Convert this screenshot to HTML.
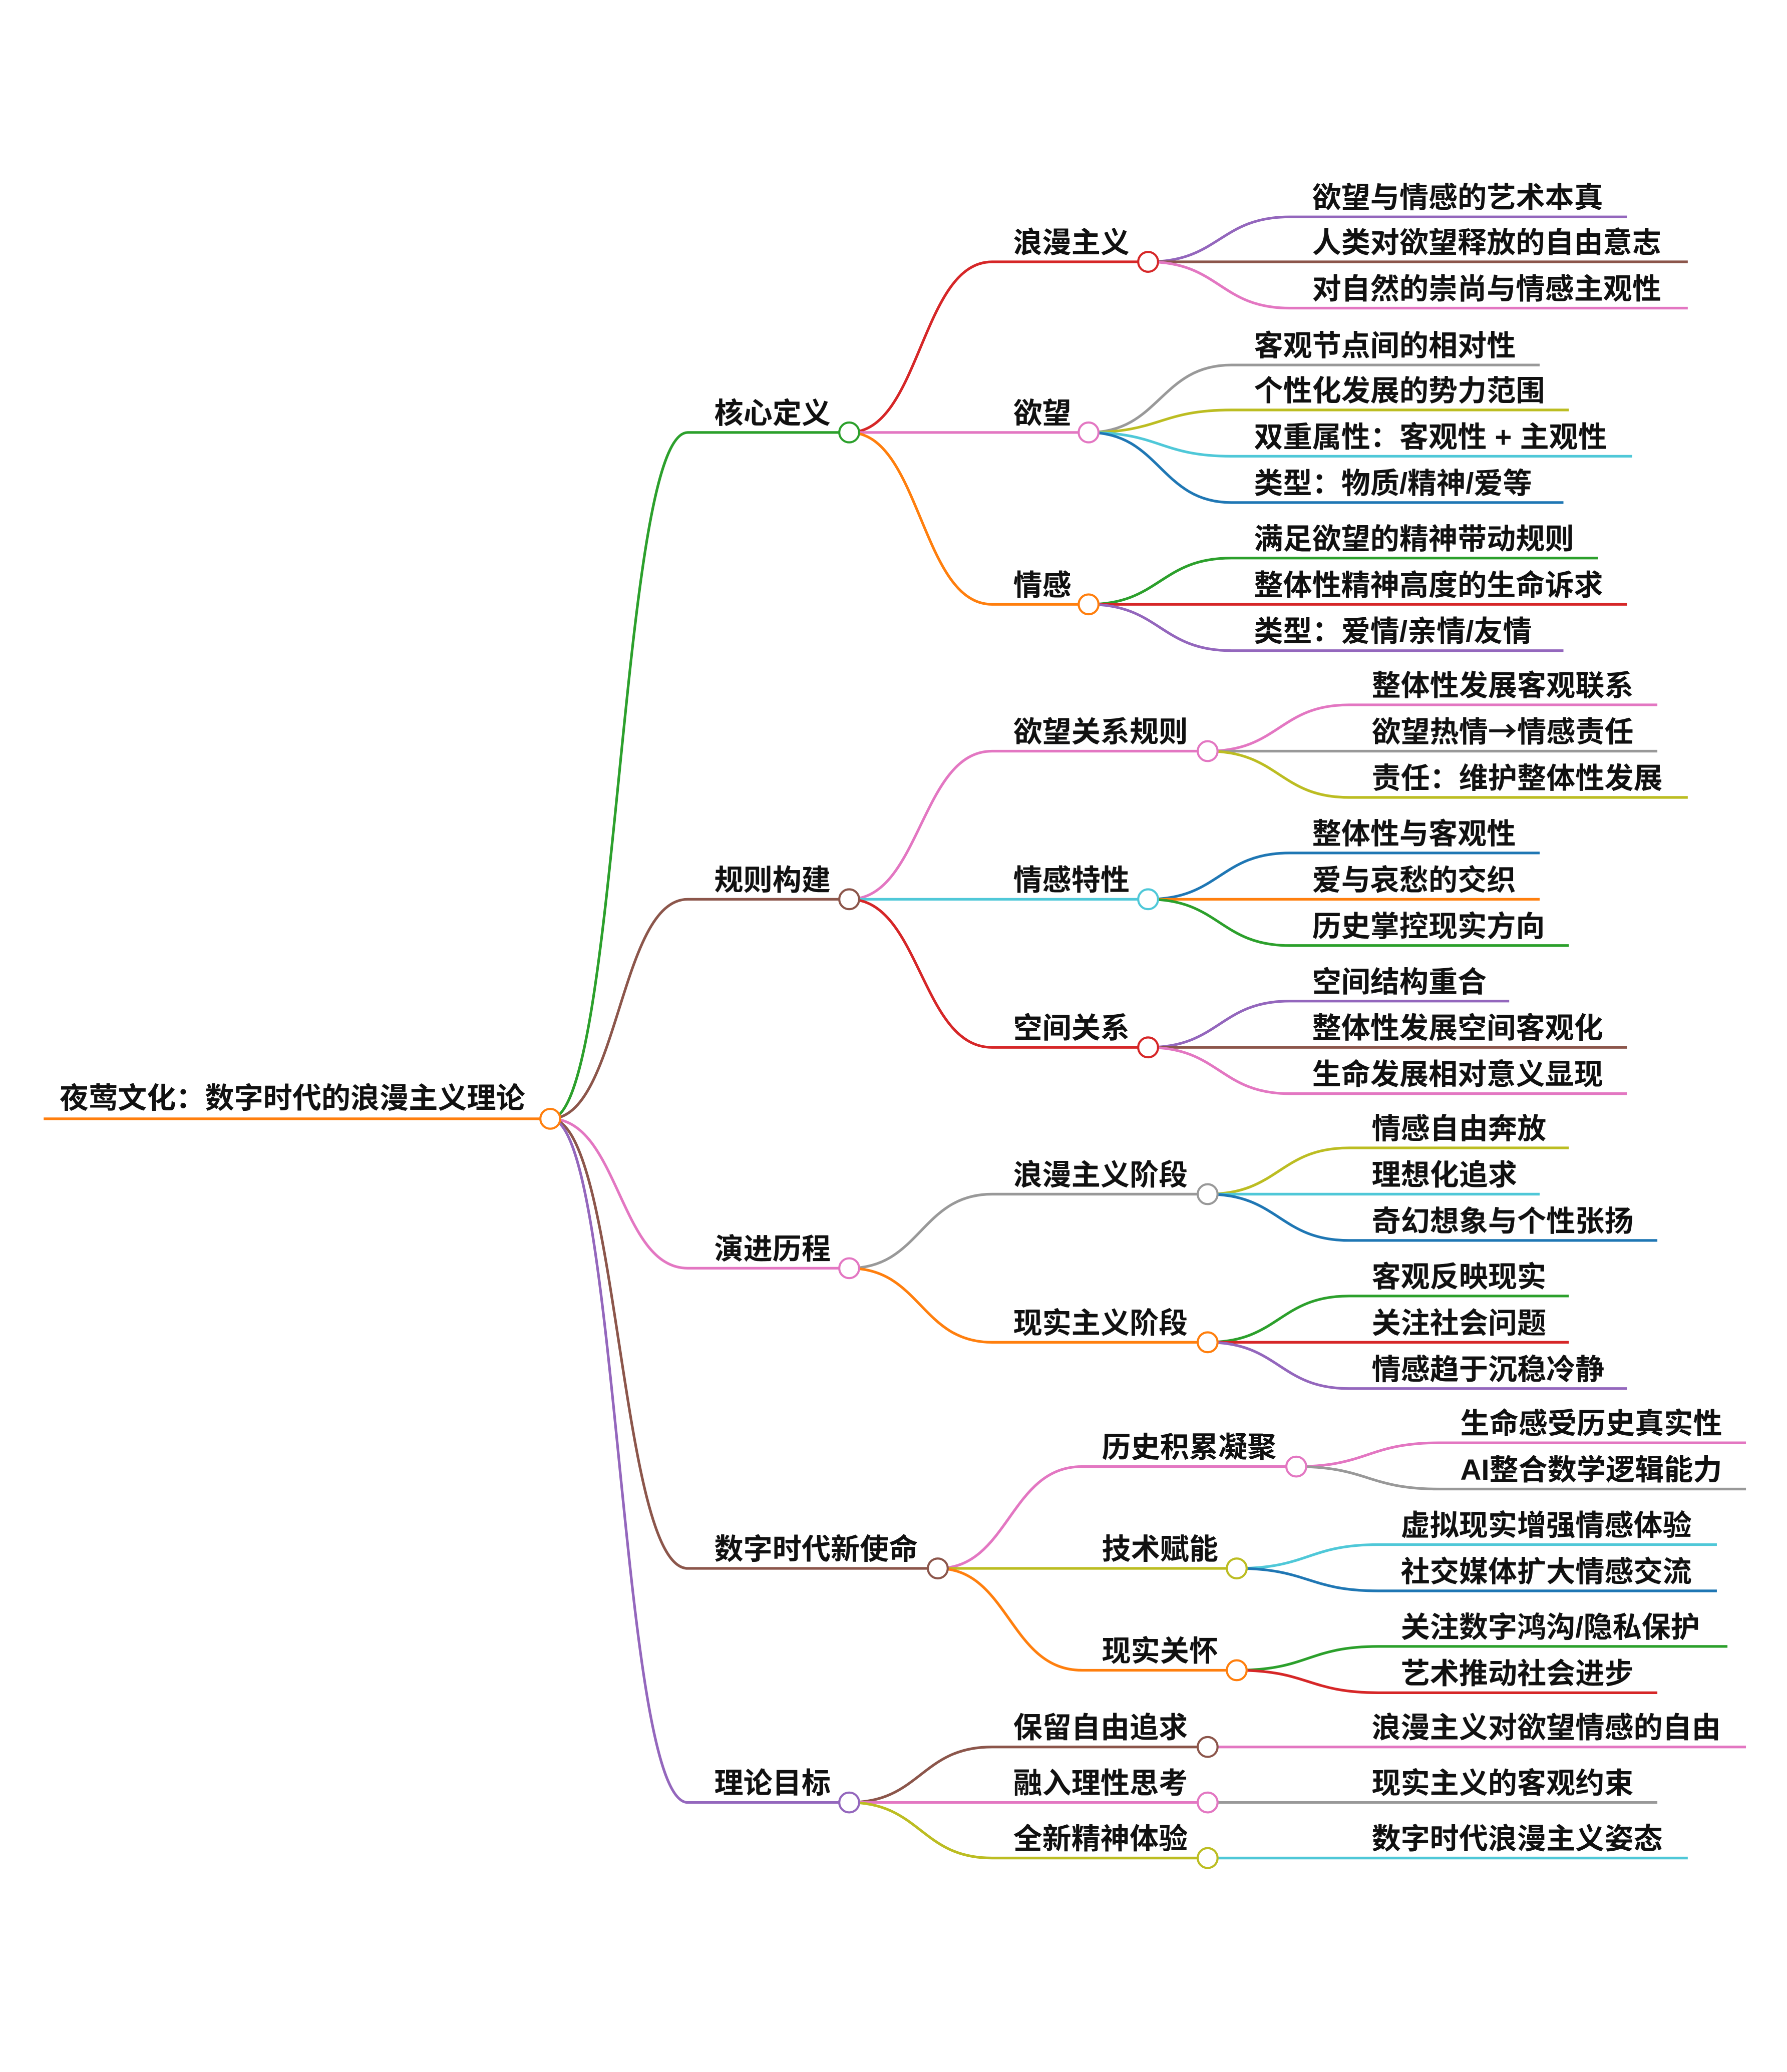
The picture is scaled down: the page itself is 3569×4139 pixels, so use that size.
<!DOCTYPE html>
<html><head><meta charset="utf-8"><style>
html,body{margin:0;padding:0;background:#fff;}
svg{display:block;}
text{font-family:"Liberation Sans","Noto Sans CJK SC",sans-serif;font-weight:bold;font-size:22px;fill:#111;}
path{fill:none;stroke-width:2;}
circle{fill:#fff;stroke-width:1.6;}
</style></head><body>
<svg width="3569" height="4139" viewBox="0 0 1351 1566.8" xmlns="http://www.w3.org/2000/svg">
<path d="M33 846 L416 846" stroke="#ff7f0e"/>
<text x="45" y="838">夜莺文化：数字时代的浪漫主义理论</text>
<path d="M416 846 C468 846 468 327 520 327 L642 327" stroke="#2ca02c"/>
<path d="M416 846 C468 846 468 680 520 680 L642 680" stroke="#8c564b"/>
<path d="M416 846 C468 846 468 959 520 959 L642 959" stroke="#e377c2"/>
<path d="M416 846 C468 846 468 1186 520 1186 L709 1186" stroke="#8c564b"/>
<path d="M416 846 C468 846 468 1363 520 1363 L642 1363" stroke="#9467bd"/>
<text x="540" y="320">核心定义</text>
<text x="540" y="673">规则构建</text>
<text x="540" y="952">演进历程</text>
<text x="540" y="1179">数字时代新使命</text>
<text x="540" y="1356">理论目标</text>
<path d="M642 327 C696 327 696 198 750 198 L868 198" stroke="#d62728"/>
<path d="M642 327 L823 327" stroke="#e377c2"/>
<path d="M642 327 C696 327 696 457 750 457 L823 457" stroke="#ff7f0e"/>
<path d="M642 680 C696 680 696 568 750 568 L913 568" stroke="#e377c2"/>
<path d="M642 680 L868 680" stroke="#4fc8d8"/>
<path d="M642 680 C696 680 696 792 750 792 L868 792" stroke="#d62728"/>
<path d="M642 959 C696 959 696 903 750 903 L913 903" stroke="#999999"/>
<path d="M642 959 C696 959 696 1015 750 1015 L913 1015" stroke="#ff7f0e"/>
<path d="M709 1186 C763 1186 763 1109 818 1109 L980 1109" stroke="#e377c2"/>
<path d="M709 1186 L935 1186" stroke="#bcbd22"/>
<path d="M709 1186 C763 1186 763 1263 818 1263 L935 1263" stroke="#ff7f0e"/>
<path d="M642 1363 C696 1363 696 1321 750 1321 L913 1321" stroke="#8c564b"/>
<path d="M642 1363 L913 1363" stroke="#e377c2"/>
<path d="M642 1363 C696 1363 696 1405 750 1405 L913 1405" stroke="#bcbd22"/>
<text x="766" y="191">浪漫主义</text>
<text x="766" y="320">欲望</text>
<text x="766" y="450">情感</text>
<text x="766" y="561">欲望关系规则</text>
<text x="766" y="673">情感特性</text>
<text x="766" y="785">空间关系</text>
<text x="766" y="896">浪漫主义阶段</text>
<text x="766" y="1008">现实主义阶段</text>
<text x="833" y="1102">历史积累凝聚</text>
<text x="833" y="1179">技术赋能</text>
<text x="833" y="1256">现实关怀</text>
<text x="766" y="1314">保留自由追求</text>
<text x="766" y="1356">融入理性思考</text>
<text x="766" y="1398">全新精神体验</text>
<path d="M868 198 C922 198 922 164 975 164 L1230 164" stroke="#9467bd"/>
<path d="M868 198 L1276 198" stroke="#8c564b"/>
<path d="M868 198 C922 198 922 233 975 233 L1276 233" stroke="#e377c2"/>
<text x="992" y="157">欲望与情感的艺术本真</text>
<text x="992" y="191">人类对欲望释放的自由意志</text>
<text x="992" y="226">对自然的崇尚与情感主观性</text>
<path d="M823 327 C877 327 877 276 931 276 L1164 276" stroke="#999999"/>
<path d="M823 327 C877 327 877 310 931 310 L1186 310" stroke="#bcbd22"/>
<path d="M823 327 C877 327 877 345 931 345 L1234 345" stroke="#4fc8d8"/>
<path d="M823 327 C877 327 877 380 931 380 L1182 380" stroke="#1f77b4"/>
<text x="948" y="269">客观节点间的相对性</text>
<text x="948" y="303">个性化发展的势力范围</text>
<text x="948" y="338">双重属性：客观性 + 主观性</text>
<text x="948" y="373">类型：物质/精神/爱等</text>
<path d="M823 457 C877 457 877 422 931 422 L1208 422" stroke="#2ca02c"/>
<path d="M823 457 L1230 457" stroke="#d62728"/>
<path d="M823 457 C877 457 877 492 931 492 L1182 492" stroke="#9467bd"/>
<text x="948" y="415">满足欲望的精神带动规则</text>
<text x="948" y="450">整体性精神高度的生命诉求</text>
<text x="948" y="485">类型：爱情/亲情/友情</text>
<path d="M913 568 C967 568 967 533 1020 533 L1253 533" stroke="#e377c2"/>
<path d="M913 568 L1253 568" stroke="#999999"/>
<path d="M913 568 C967 568 967 603 1020 603 L1276 603" stroke="#bcbd22"/>
<text x="1037" y="526">整体性发展客观联系</text>
<text x="1037" y="561">欲望热情<tspan style="font-family:'Noto Sans CJK SC',sans-serif">→</tspan>情感责任</text>
<text x="1037" y="596">责任：维护整体性发展</text>
<path d="M868 680 C922 680 922 645 975 645 L1164 645" stroke="#1f77b4"/>
<path d="M868 680 L1164 680" stroke="#ff7f0e"/>
<path d="M868 680 C922 680 922 715 975 715 L1186 715" stroke="#2ca02c"/>
<text x="992" y="638">整体性与客观性</text>
<text x="992" y="673">爱与哀愁的交织</text>
<text x="992" y="708">历史掌控现实方向</text>
<path d="M868 792 C922 792 922 757 975 757 L1141 757" stroke="#9467bd"/>
<path d="M868 792 L1230 792" stroke="#8c564b"/>
<path d="M868 792 C922 792 922 827 975 827 L1230 827" stroke="#e377c2"/>
<text x="992" y="750">空间结构重合</text>
<text x="992" y="785">整体性发展空间客观化</text>
<text x="992" y="820">生命发展相对意义显现</text>
<path d="M913 903 C967 903 967 868 1020 868 L1186 868" stroke="#bcbd22"/>
<path d="M913 903 L1164 903" stroke="#4fc8d8"/>
<path d="M913 903 C967 903 967 938 1020 938 L1253 938" stroke="#1f77b4"/>
<text x="1037" y="861">情感自由奔放</text>
<text x="1037" y="896">理想化追求</text>
<text x="1037" y="931">奇幻想象与个性张扬</text>
<path d="M913 1015 C967 1015 967 980 1020 980 L1186 980" stroke="#2ca02c"/>
<path d="M913 1015 L1186 1015" stroke="#d62728"/>
<path d="M913 1015 C967 1015 967 1050 1020 1050 L1230 1050" stroke="#9467bd"/>
<text x="1037" y="973">客观反映现实</text>
<text x="1037" y="1008">关注社会问题</text>
<text x="1037" y="1043">情感趋于沉稳冷静</text>
<path d="M980 1109 C1034 1109 1034 1091 1088 1091 L1320 1091" stroke="#e377c2"/>
<path d="M980 1109 C1034 1109 1034 1126 1088 1126 L1320 1126" stroke="#999999"/>
<text x="1104" y="1084">生命感受历史真实性</text>
<text x="1104" y="1119">AI整合数学逻辑能力</text>
<path d="M935 1186 C989 1186 989 1168 1042 1168 L1298 1168" stroke="#4fc8d8"/>
<path d="M935 1186 C989 1186 989 1203 1042 1203 L1298 1203" stroke="#1f77b4"/>
<text x="1059" y="1161">虚拟现实增强情感体验</text>
<text x="1059" y="1196">社交媒体扩大情感交流</text>
<path d="M935 1263 C989 1263 989 1245 1042 1245 L1306 1245" stroke="#2ca02c"/>
<path d="M935 1263 C989 1263 989 1280 1042 1280 L1253 1280" stroke="#d62728"/>
<text x="1059" y="1238">关注数字鸿沟/隐私保护</text>
<text x="1059" y="1273">艺术推动社会进步</text>
<path d="M913 1321 L1320 1321" stroke="#e377c2"/>
<path d="M913 1363 L1253 1363" stroke="#999999"/>
<path d="M913 1405 L1276 1405" stroke="#4fc8d8"/>
<text x="1037" y="1314">浪漫主义对欲望情感的自由</text>
<text x="1037" y="1356">现实主义的客观约束</text>
<text x="1037" y="1398">数字时代浪漫主义姿态</text>
<circle cx="416" cy="846" r="7.5" stroke="#ff7f0e"/>
<circle cx="642" cy="327" r="7.5" stroke="#2ca02c"/>
<circle cx="642" cy="680" r="7.5" stroke="#8c564b"/>
<circle cx="642" cy="959" r="7.5" stroke="#e377c2"/>
<circle cx="709" cy="1186" r="7.5" stroke="#8c564b"/>
<circle cx="642" cy="1363" r="7.5" stroke="#9467bd"/>
<circle cx="868" cy="198" r="7.5" stroke="#d62728"/>
<circle cx="823" cy="327" r="7.5" stroke="#e377c2"/>
<circle cx="823" cy="457" r="7.5" stroke="#ff7f0e"/>
<circle cx="913" cy="568" r="7.5" stroke="#e377c2"/>
<circle cx="868" cy="680" r="7.5" stroke="#4fc8d8"/>
<circle cx="868" cy="792" r="7.5" stroke="#d62728"/>
<circle cx="913" cy="903" r="7.5" stroke="#999999"/>
<circle cx="913" cy="1015" r="7.5" stroke="#ff7f0e"/>
<circle cx="980" cy="1109" r="7.5" stroke="#e377c2"/>
<circle cx="935" cy="1186" r="7.5" stroke="#bcbd22"/>
<circle cx="935" cy="1263" r="7.5" stroke="#ff7f0e"/>
<circle cx="913" cy="1321" r="7.5" stroke="#8c564b"/>
<circle cx="913" cy="1363" r="7.5" stroke="#e377c2"/>
<circle cx="913" cy="1405" r="7.5" stroke="#bcbd22"/>
</svg>
</body></html>
